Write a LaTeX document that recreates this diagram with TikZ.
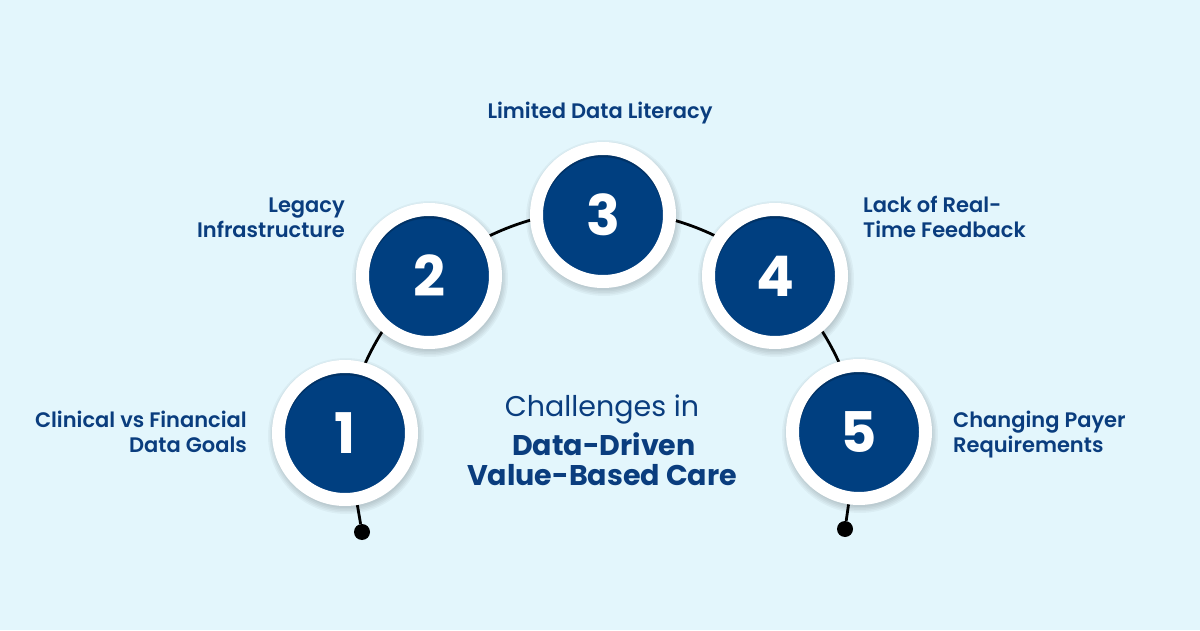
\documentclass[tikz,border=0pt]{standalone}
\usepackage{fontspec}
\setmainfont{Poppins}
\newfontfamily\psemi{Poppins SemiBold}
\newfontfamily\preg{Poppins}
\newfontfamily\pbold{Poppins Bold}
\definecolor{bgc}{HTML}{E3F6FC}
\definecolor{navy}{HTML}{003F80}
\definecolor{txt}{HTML}{0A3D7E}
\pgfdeclarelayer{back}
\pgfdeclarelayer{lines}
\pgfsetlayers{back,lines,main}
\tikzset{
  numcircle/.style={circle, fill=navy, draw=white, line width=13pt, minimum size=133pt, inner sep=0pt,
    text=white, font=\pbold\fontsize{56}{60}\selectfont},
  enddot/.style={circle, fill=black, minimum size=16pt, inner sep=0pt},
  conn/.style={black, line width=2.8pt},
  lbl/.style={inner sep=0pt, text=txt, font=\psemi\fontsize{21}{25}\selectfont},
  ttl/.style={inner sep=0pt, text=txt, font=\preg\fontsize{28.5}{32}\selectfont},
  ttlb/.style={inner sep=0pt, text=txt, font=\pbold\fontsize{28.5}{32}\selectfont},
}
\begin{document}
\begin{tikzpicture}[x=1pt,y=1pt]
\begin{pgfonlayer}{back}
\fill[bgc] (0,0) rectangle (1200,630);
\useasboundingbox (0,0) rectangle (1200,630);
\foreach \p in {(345,197),(429,354),(603,415),(775,354),(859,198)}{
  \foreach \r in {72,73.5,75,76.5,78}{
    \fill[black, opacity=0.035] \p ++(1,-3) circle (\r);
  }
}
\end{pgfonlayer}

\node[numcircle] (c1) at (345,197) {1};
\node[numcircle] (c2) at (429,354) {2};
\node[numcircle] (c3) at (603,415) {3};
\node[numcircle] (c4) at (775,354) {4};
\node[numcircle] (c5) at (859,198) {5};

% soft inner shadow at the top of each blue disc
\foreach \n in {c1,c2,c3,c4,c5}{
  \begin{scope}
    \clip (\n.center) circle (60pt);
    \draw[black, opacity=0.10, line width=5pt] ([yshift=-3pt]\n.center) circle (63pt);
    \draw[black, opacity=0.10, line width=3pt] ([yshift=-2pt]\n.center) circle (61.5pt);
  \end{scope}
}

\node[enddot] (d1) at (362,98) {};
\node[enddot] (d5) at (845,101) {};

\begin{pgfonlayer}{lines}
\draw[conn] (c1.center) arc[start angle=171.8, end angle=8.4, radius=260pt];
\draw[conn] (c1) -- (d1);
\draw[conn] (c5) -- (d5);
\end{pgfonlayer}

\node[lbl, anchor=base] (l3) at (600,511) {Limited Data Literacy};
\node[lbl, anchor=base east] (l2a) at (345,417) {Legacy};
\node[lbl, anchor=base east] (l2b) at (345,392) {Infrastructure};
\node[lbl, anchor=base west] (l4a) at (863,417) {Lack of Real-};
\node[lbl, anchor=base west] (l4b) at (863,392) {Time Feedback};
\node[lbl, anchor=base east] (l1a) at (247,203) {Clinical vs Financial};
\node[lbl, anchor=base east] (l1b) at (247,178) {Data Goals};
\node[lbl, anchor=base west] (l5a) at (953,203) {Changing Payer};
\node[lbl, anchor=base west] (l5b) at (953,178) {Requirements};

\node[ttl, anchor=base] (t1) at (602,213) {Challenges in};
\node[ttlb, anchor=base] (t2) at (604,175) {Data-Driven};
\node[ttlb, anchor=base] (t3) at (602,145) {Value-Based Care};
\end{tikzpicture}
\end{document}
